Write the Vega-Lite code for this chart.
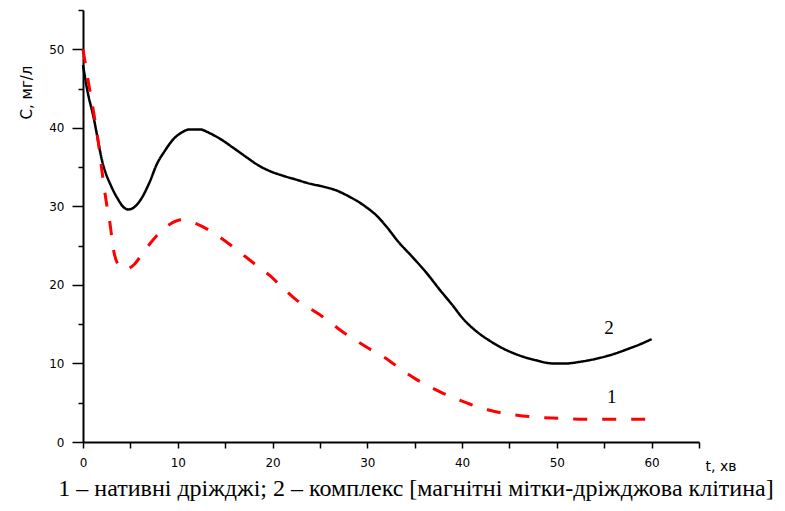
{
  "$schema": "https://vega.github.io/schema/vega-lite/v6.json",
  "width": 616,
  "height": 432,
  "autosize": {"type": "none"},
  "padding": {"left": 83, "top": 10, "right": 86, "bottom": 69},
  "background": "white",
  "config": {"view": {"stroke": null}},
  "title": {
    "text": "1 – нативні дріжджі; 2 – комплекс [магнітні мітки-дріжджова клітина]",
    "orient": "bottom",
    "anchor": "middle",
    "font": "Liberation Serif",
    "fontSize": 24,
    "fontWeight": "normal",
    "color": "black",
    "offset": 4,
    "dx": 25
  },
  "datasets": {
    "curves": [
      {"series": "2", "t": 0, "C": 48},
      {"series": "2", "t": 0.5, "C": 44.5},
      {"series": "2", "t": 1.05, "C": 41.7},
      {"series": "2", "t": 2.1, "C": 35.4},
      {"series": "2", "t": 3.0, "C": 32.5},
      {"series": "2", "t": 3.6, "C": 31.1},
      {"series": "2", "t": 4.2, "C": 30.0},
      {"series": "2", "t": 4.75, "C": 29.6},
      {"series": "2", "t": 5.3, "C": 29.8},
      {"series": "2", "t": 6.0, "C": 30.7},
      {"series": "2", "t": 7.0, "C": 33.0},
      {"series": "2", "t": 7.8, "C": 35.4},
      {"series": "2", "t": 8.6, "C": 37.0},
      {"series": "2", "t": 9.5, "C": 38.5},
      {"series": "2", "t": 10.4, "C": 39.4},
      {"series": "2", "t": 11.3, "C": 39.8},
      {"series": "2", "t": 12.3, "C": 39.8},
      {"series": "2", "t": 13.4, "C": 39.3},
      {"series": "2", "t": 14.6, "C": 38.5},
      {"series": "2", "t": 15.8, "C": 37.5},
      {"series": "2", "t": 17.2, "C": 36.3},
      {"series": "2", "t": 18.4, "C": 35.3},
      {"series": "2", "t": 19.7, "C": 34.5},
      {"series": "2", "t": 21.1, "C": 33.9},
      {"series": "2", "t": 22.5, "C": 33.4},
      {"series": "2", "t": 23.9, "C": 32.9},
      {"series": "2", "t": 25.4, "C": 32.5},
      {"series": "2", "t": 26.8, "C": 32.0},
      {"series": "2", "t": 28.0, "C": 31.3},
      {"series": "2", "t": 28.9, "C": 30.7},
      {"series": "2", "t": 30.0, "C": 29.8},
      {"series": "2", "t": 31.0, "C": 28.8},
      {"series": "2", "t": 32.1, "C": 27.3},
      {"series": "2", "t": 33.2, "C": 25.6},
      {"series": "2", "t": 34.8, "C": 23.5},
      {"series": "2", "t": 36.2, "C": 21.6},
      {"series": "2", "t": 37.7, "C": 19.3},
      {"series": "2", "t": 39.0, "C": 17.4},
      {"series": "2", "t": 40.1, "C": 15.7},
      {"series": "2", "t": 41.5, "C": 14.1},
      {"series": "2", "t": 42.9, "C": 12.9},
      {"series": "2", "t": 44.5, "C": 11.8},
      {"series": "2", "t": 46.1, "C": 11.0},
      {"series": "2", "t": 47.8, "C": 10.4},
      {"series": "2", "t": 49.6, "C": 10.0},
      {"series": "2", "t": 51.0, "C": 10.0},
      {"series": "2", "t": 52.4, "C": 10.2},
      {"series": "2", "t": 54.5, "C": 10.7},
      {"series": "2", "t": 56.0, "C": 11.2},
      {"series": "2", "t": 57.4, "C": 11.8},
      {"series": "2", "t": 58.7, "C": 12.4},
      {"series": "2", "t": 60.0, "C": 13.1},
      {"series": "1", "t": 0, "C": 50},
      {"series": "1", "t": 0.5, "C": 46.3},
      {"series": "1", "t": 1.05, "C": 42.5},
      {"series": "1", "t": 1.6, "C": 38.3},
      {"series": "1", "t": 2.0, "C": 34.5},
      {"series": "1", "t": 2.4, "C": 31.0},
      {"series": "1", "t": 2.85, "C": 27.8},
      {"series": "1", "t": 3.2, "C": 24.6},
      {"series": "1", "t": 3.7, "C": 22.6},
      {"series": "1", "t": 4.3, "C": 22.0},
      {"series": "1", "t": 4.8, "C": 22.1},
      {"series": "1", "t": 5.4, "C": 22.6},
      {"series": "1", "t": 6.0, "C": 23.5},
      {"series": "1", "t": 7.1, "C": 25.3},
      {"series": "1", "t": 7.8, "C": 26.3},
      {"series": "1", "t": 9.0, "C": 27.6},
      {"series": "1", "t": 10.4, "C": 28.3},
      {"series": "1", "t": 11.5, "C": 28.0},
      {"series": "1", "t": 13.4, "C": 26.9},
      {"series": "1", "t": 15.0, "C": 25.6},
      {"series": "1", "t": 16.6, "C": 24.1},
      {"series": "1", "t": 18.2, "C": 22.6},
      {"series": "1", "t": 19.7, "C": 21.2},
      {"series": "1", "t": 21.2, "C": 19.5},
      {"series": "1", "t": 22.6, "C": 18.0},
      {"series": "1", "t": 24.2, "C": 16.8},
      {"series": "1", "t": 25.7, "C": 15.6},
      {"series": "1", "t": 27.2, "C": 14.2},
      {"series": "1", "t": 28.7, "C": 13.0},
      {"series": "1", "t": 30.3, "C": 11.8},
      {"series": "1", "t": 31.9, "C": 10.7},
      {"series": "1", "t": 33.5, "C": 9.3},
      {"series": "1", "t": 35.0, "C": 8.1},
      {"series": "1", "t": 36.5, "C": 7.1},
      {"series": "1", "t": 38.0, "C": 6.2},
      {"series": "1", "t": 39.6, "C": 5.4},
      {"series": "1", "t": 41.1, "C": 4.7},
      {"series": "1", "t": 42.7, "C": 4.1},
      {"series": "1", "t": 44.2, "C": 3.7},
      {"series": "1", "t": 45.8, "C": 3.4},
      {"series": "1", "t": 47.4, "C": 3.2},
      {"series": "1", "t": 50.3, "C": 3.0},
      {"series": "1", "t": 53.0, "C": 2.9},
      {"series": "1", "t": 56.0, "C": 2.9},
      {"series": "1", "t": 60.0, "C": 2.9}
    ],
    "labels": [
      {"series": "2", "t": 55.5, "C": 14.5},
      {"series": "1", "t": 55.8, "C": 5.7}
    ]
  },
  "resolve": {"axis": {"y": "independent"}},
  "layer": [
    {
      "data": {"name": "curves"},
      "mark": {"type": "line", "interpolate": "monotone", "strokeCap": "butt"},
      "encoding": {
        "x": {
          "field": "t", "type": "quantitative",
          "scale": {"domain": [0, 65], "nice": false, "zero": false},
          "axis": {
            "values": [0, 5, 10, 15, 20, 25, 30, 35, 40, 45, 50, 55, 60, 65],
            "labelExpr": "(datum.value % 10 == 0 && datum.value <= 60) ? datum.label : ''",
            "grid": false,
            "domainColor": "black", "domainWidth": 2,
            "ticks": true,
            "tickColor": "black", "tickWidth": 1.5, "tickSize": 6,
            "labelFont": "DejaVu Sans", "labelFontSize": 12, "labelColor": "black",
            "labelPadding": 9, "labelFlush": false,
            "title": "t,  хв",
            "titleFont": "DejaVu Sans", "titleFontSize": 14, "titleFontWeight": "normal",
            "titleColor": "black",
            "titleX": 622, "titleY": 24, "titleAlign": "left", "titleBaseline": "middle", "titleAngle": 0
          }
        },
        "y": {
          "field": "C", "type": "quantitative",
          "scale": {"domain": [0, 55], "nice": false, "zero": false},
          "axis": {
            "orient": "left",
            "values": [0, 10, 20, 30, 40, 50],
            "grid": false,
            "domainColor": "black", "domainWidth": 2,
            "ticks": true,
            "tickColor": "black", "tickWidth": 1.5, "tickSize": 11,
            "labelFont": "DejaVu Sans", "labelFontSize": 12, "labelColor": "black",
            "labelPadding": 8, "labelFlush": false,
            "title": "C, мг/л",
            "titleFont": "DejaVu Sans", "titleFontSize": 15, "titleFontWeight": "normal",
            "titleColor": "black",
            "titleX": -57, "titleY": 82, "titleAlign": "center", "titleBaseline": "middle", "titleAngle": -90
          }
        },
        "color": {
          "field": "series", "type": "nominal",
          "scale": {"domain": ["1", "2"], "range": ["#ff0000", "#000000"]},
          "legend": null
        },
        "strokeDash": {
          "field": "series", "type": "nominal",
          "scale": {"domain": ["1", "2"], "range": [[14, 15], [1, 0]]},
          "legend": null
        },
        "strokeWidth": {
          "field": "series", "type": "nominal",
          "scale": {"domain": ["1", "2"], "range": [3, 2.5]},
          "legend": null
        }
      }
    },
    {
      "data": {"name": "labels"},
      "mark": {"type": "text", "font": "Liberation Serif", "fontSize": 19, "color": "black", "align": "center", "baseline": "middle"},
      "encoding": {
        "x": {"field": "t", "type": "quantitative"},
        "y": {
          "field": "C", "type": "quantitative",
          "axis": {
            "orient": "left",
            "values": [5, 15, 25, 35, 45, 55],
            "labels": false,
            "domain": false,
            "grid": false,
            "ticks": true,
            "tickColor": "black", "tickWidth": 1.5, "tickSize": 5,
            "title": null
          }
        },
        "text": {"field": "series"}
      }
    }
  ]
}
